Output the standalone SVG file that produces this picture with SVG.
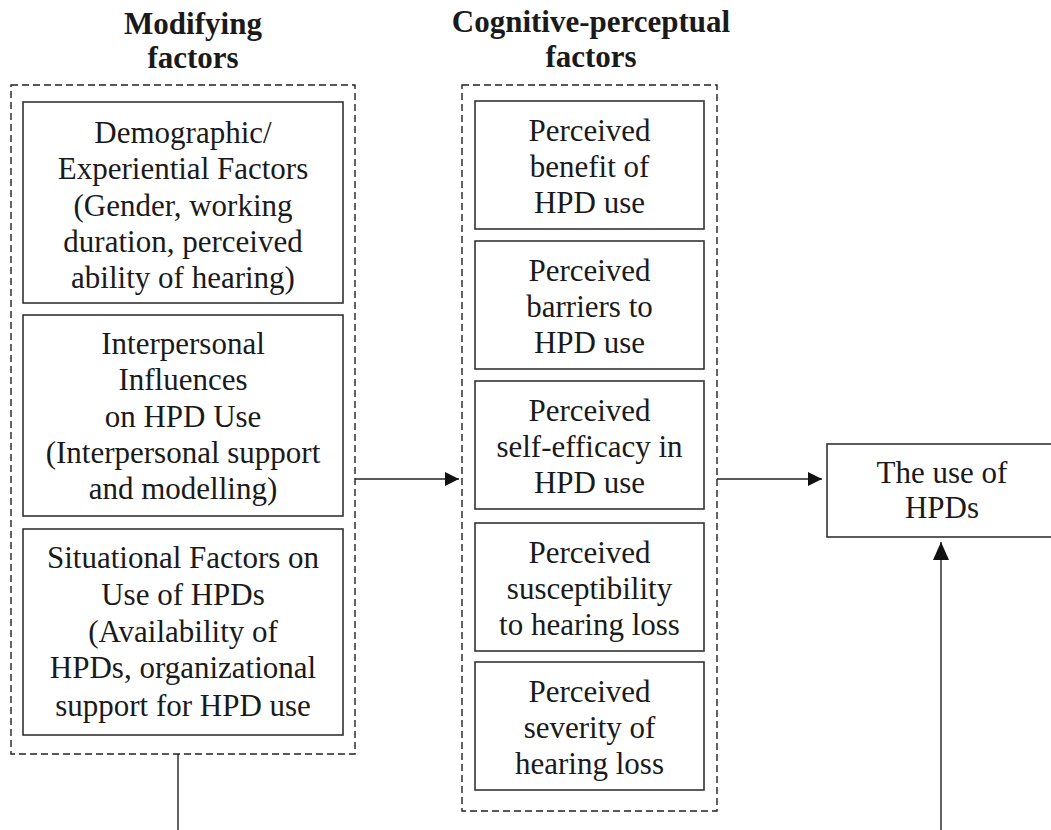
<svg xmlns="http://www.w3.org/2000/svg" width="1051" height="830" viewBox="0 0 1051 830">
<style>
  text { font-family: "Liberation Serif", "Times New Roman", serif; fill: #1a1a1a; }
  .t { font-size: 31px; text-anchor: middle; }
  .h { font-size: 31px; font-weight: bold; text-anchor: middle; }
  .box { fill: #fff; stroke: #333; stroke-width: 1.6; }
  .grp { fill: none; stroke: #222; stroke-width: 1.4; stroke-dasharray: 7 4; }
  .ln { fill: none; stroke: #222; stroke-width: 1.4; }
</style>
<defs>
  <marker id="arr" viewBox="0 0 14 14" refX="14" refY="7" markerWidth="14" markerHeight="14" markerUnits="userSpaceOnUse" orient="auto">
    <path d="M0,0 L14,7 L0,14 Z" fill="#111"/>
  </marker>
  <marker id="arrUp" viewBox="0 0 18 16" refX="18" refY="8" markerWidth="18" markerHeight="16" markerUnits="userSpaceOnUse" orient="auto">
    <path d="M0,0 L18,8 L0,16 Z" fill="#111"/>
  </marker>
</defs>
<rect width="1051" height="830" fill="#fff"/>

<g id="headings">
  <text class="h" x="193" y="34">Modifying</text>
  <text class="h" x="193" y="68">factors</text>
  <text class="h" x="591" y="32">Cognitive-perceptual</text>
  <text class="h" x="591" y="67">factors</text>
</g>

<g id="modifying-factors">
  <rect class="grp" x="11" y="85" width="344" height="669"/>
</g>
<g id="cognitive-factors">
  <rect class="grp" x="462" y="85" width="255" height="726"/>
</g>

<g id="demographic">
  <rect class="box" x="23" y="102" width="320" height="201"/>
  <text class="t" x="183" y="143">Demographic/</text>
  <text class="t" x="183" y="179">Experiential Factors</text>
  <text class="t" x="183" y="216">(Gender, working</text>
  <text class="t" x="183" y="252">duration, perceived</text>
  <text class="t" x="183" y="288">ability of hearing)</text>
</g>
<g id="interpersonal">
  <rect class="box" x="23" y="315" width="320" height="201"/>
  <text class="t" x="183" y="354">Interpersonal</text>
  <text class="t" x="183" y="390">Influences</text>
  <text class="t" x="183" y="427">on HPD Use</text>
  <text class="t" x="183" y="463">(Interpersonal support</text>
  <text class="t" x="183" y="499">and modelling)</text>
</g>
<g id="situational">
  <rect class="box" x="23" y="529" width="320" height="206"/>
  <text class="t" x="183" y="568">Situational Factors on</text>
  <text class="t" x="183" y="605">Use of HPDs</text>
  <text class="t" x="183" y="642">(Availability of</text>
  <text class="t" x="183" y="678">HPDs, organizational</text>
  <text class="t" x="183" y="716">support for HPD use</text>
</g>

<g id="benefit">
  <rect class="box" x="475" y="101" width="229" height="128"/>
  <text class="t" x="589.5" y="141">Perceived</text>
  <text class="t" x="589.5" y="177">benefit of</text>
  <text class="t" x="589.5" y="213">HPD use</text>
</g>
<g id="barriers">
  <rect class="box" x="475" y="241" width="229" height="128"/>
  <text class="t" x="589.5" y="281">Perceived</text>
  <text class="t" x="589.5" y="317">barriers to</text>
  <text class="t" x="589.5" y="353">HPD use</text>
</g>
<g id="self-efficacy">
  <rect class="box" x="475" y="381" width="229" height="128"/>
  <text class="t" x="589.5" y="421">Perceived</text>
  <text class="t" x="589.5" y="457">self-efficacy in</text>
  <text class="t" x="589.5" y="493">HPD use</text>
</g>
<g id="susceptibility">
  <rect class="box" x="475" y="523" width="229" height="128"/>
  <text class="t" x="589.5" y="563">Perceived</text>
  <text class="t" x="589.5" y="599">susceptibility</text>
  <text class="t" x="589.5" y="635">to hearing loss</text>
</g>
<g id="severity">
  <rect class="box" x="475" y="662" width="229" height="128"/>
  <text class="t" x="589.5" y="702">Perceived</text>
  <text class="t" x="589.5" y="738">severity of</text>
  <text class="t" x="589.5" y="774">hearing loss</text>
</g>

<g id="use-of-hpds">
  <rect class="box" x="827" y="444" width="240" height="93"/>
  <text class="t" x="942" y="483">The use of</text>
  <text class="t" x="942" y="518">HPDs</text>
</g>

<g id="connectors">
  <line class="ln" x1="355" y1="479" x2="459" y2="479" marker-end="url(#arr)"/>
  <line class="ln" x1="717" y1="479" x2="822" y2="479" marker-end="url(#arr)"/>
  <line class="ln" x1="941" y1="830" x2="941" y2="542" marker-end="url(#arrUp)"/>
  <line class="ln" x1="178" y1="754" x2="178" y2="830"/>
</g>
</svg>
